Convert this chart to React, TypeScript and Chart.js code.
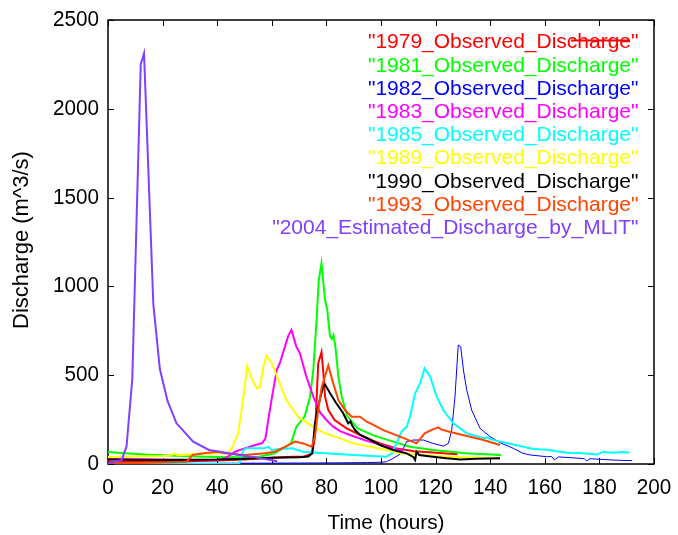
import React, { useEffect, useRef } from "react";
import { Chart, registerables } from "chart.js";
Chart.register(...registerables);

// ---- data (hours, discharge m^3/s) ----
const h1979 = [0, 10, 20, 30, 40, 50, 60, 65, 72, 74.8, 75.8, 76.4, 77, 78.2, 78.9, 79.5, 80.7, 83, 87.4, 93.5, 99.6, 105.7, 112, 119, 128];
const q1979 = [12, 12, 14, 16, 20, 26, 35, 40, 42, 60, 154, 360, 567, 630, 511, 379, 304, 248, 201, 154, 116, 88, 72, 65, 55];

const h1981 = [0, 5, 15, 25, 35, 45, 55, 61, 67, 69, 72, 74, 75.2, 76.4, 77.2, 78.2, 79.5, 80.3, 81.3, 82, 82.6, 83.3, 84.4, 85.6, 87.6, 91.5, 97.5, 103.5, 110.6, 119, 131, 144];
const q1981 = [68, 62, 52, 46, 41, 38, 40, 60, 116, 210, 266, 379, 529, 810, 1036, 1130, 923, 870, 720, 705, 726, 661, 492, 380, 270, 200, 160, 130, 97, 79, 60, 50];

const h1982 = [0, 20, 40, 60, 80, 95, 100, 102, 104.5, 107, 108.2, 109.4, 111.8, 115.5, 119, 122.8, 124.7, 125.9, 127.1, 128.3, 129.2, 130.2, 131.4, 133.2, 136.3, 140, 143.6, 148.5, 152, 154.6, 160.7, 162.5, 163.5, 165, 172.9, 174.5, 175.3, 176.5, 185, 192];
const q1982 = [2, 3, 4, 5, 6, 8, 10, 13, 32, 55, 88, 126, 135, 135, 116, 101, 116, 191, 379, 670, 661, 529, 417, 304, 200, 154, 120, 88, 60, 51, 41, 42, 23, 40, 32, 30, 17, 30, 22, 19];

const h1983 = [0, 10, 20, 30, 40, 43, 46.5, 50, 54, 56.5, 57.7, 58.7, 60.3, 61.8, 63, 64.8, 66, 67.2, 69, 70.3, 72.5, 75.2, 77.7, 80, 82.5, 85, 88.6, 94.8, 100.8, 104.5, 108];
const q1983 = [30, 28, 25, 22, 22, 32, 69, 88, 107, 118, 145, 248, 398, 529, 570, 661, 720, 755, 660, 623, 500, 379, 290, 248, 210, 185, 163, 130, 105, 88, 75];

const h1985 = [0, 48, 49.6, 50.8, 55, 56.9, 58.7, 60, 63, 67.3, 71.5, 79.5, 89.9, 102, 104, 105.7, 107.5, 109.4, 110.6, 112.5, 114.3, 116, 118, 120.4, 122.8, 126.5, 131.4, 137.5, 139, 140, 143.6, 148.5, 155.8, 160.7, 168, 172.9, 179, 181.4, 185, 188.8, 191];
const q1985 = [0, 0, 79, 88, 88, 88, 97, 79, 85, 88, 69, 60, 51, 41, 60, 116, 182, 210, 266, 398, 454, 539, 492, 379, 304, 229, 173, 145, 150, 140, 126, 110, 85, 80, 64, 62, 53, 68, 63, 68, 63];

const h1989 = [0, 10, 20, 23, 24, 26, 33.7, 43.5, 45.3, 47.7, 49.6, 51, 52.6, 54.5, 55.7, 56.9, 58.1, 60, 62.4, 65.5, 69.7, 74.6, 79.5, 83.2, 89.9, 102, 107, 111.8, 120, 130, 143.6];
const q1989 = [40, 42, 45, 48, 58, 50, 58, 60, 88, 173, 379, 550, 482, 426, 435, 548, 610, 567, 473, 355, 266, 215, 173, 154, 116, 79, 60, 55, 45, 38, 32];

const h1990 = [0, 10, 20, 30, 40, 50, 60, 70, 73.4, 74.8, 75.8, 77, 77.7, 78.9, 79.5, 81.3, 83.5, 86, 88, 88.8, 89.5, 90.5, 92.3, 95, 99.6, 104.5, 107, 109.4, 111.8, 112.5, 113, 114, 119, 124, 129, 135, 143.6];
const q1990 = [25, 22, 22, 24, 25, 30, 35, 38, 42, 60, 229, 323, 370, 440, 448, 400, 345, 290, 229, 240, 215, 191, 165, 145, 107, 79, 69, 60, 40, 23, 69, 51, 41, 32, 25, 30, 32];

const h1993 = [0, 10, 20, 28.8, 31, 35, 40, 43, 50, 57.5, 61, 65, 68.5, 71.5, 74.6, 75.8, 77, 78.3, 79, 80.7, 82.5, 84.4, 86.8, 89.3, 92.3, 94.8, 97.2, 100.8, 107, 113, 116, 119, 121, 122, 125, 131.4, 137.5, 143.6];
const q1993 = [3, 5, 8, 13, 51, 60, 69, 60, 51, 60, 69, 97, 126, 116, 97, 154, 304, 435, 470, 555, 454, 360, 304, 266, 266, 238, 220, 191, 154, 116, 173, 195, 206, 195, 182, 158, 135, 107];

const h2004 = [0, 5, 6.8, 8.9, 12, 13.2, 16.6, 19, 21.8, 25.1, 31.2, 37, 41, 48, 55, 62];
const q2004 = [4, 22, 100, 480, 2250, 2312, 900, 535, 355, 229, 126, 79, 69, 51, 35, 15];

const seriesLabels = [
  '"1979_Observed_Discharge"',
  '"1981_Observed_Discharge"',
  '"1982_Observed_Discharge"',
  '"1983_Observed_Discharge"',
  '"1985_Observed_Discharge"',
  '"1989_Observed_Discharge"',
  '"1990_Observed_Discharge"',
  '"1993_Observed_Discharge"',
  '"2004_Estimated_Discharge_by_MLIT"',
];
const seriesHours = [h1979, h1981, h1982, h1983, h1985, h1989, h1990, h1993, h2004];
const seriesValues = [q1979, q1981, q1982, q1983, q1985, q1989, q1990, q1993, q2004];
const seriesColors = ["#ff0000", "#00ff00", "#0000ff", "#ff00ff", "#00ffff", "#ffff00", "#000000", "#ff4500", "#8040ff"];
const seriesWidths = [2, 2, 1, 2, 2, 2, 2, 2, 2];

const xTitle = "Time (hours)";
const yTitle = "Discharge (m^3/s)";

const FONT = '"Liberation Sans", Arial, Helvetica, sans-serif';

function drawText(ctx: CanvasRenderingContext2D, s: string, x: number, y: number, align: CanvasTextAlign, size: number, color: string, rot = 0, sy = 1) {
  ctx.save();
  ctx.translate(x, y);
  if (rot) ctx.rotate(rot);
  ctx.scale(1, sy);
  ctx.font = `${size}px ${FONT}`;
  ctx.fillStyle = color;
  ctx.textAlign = align;
  ctx.textBaseline = "middle";
  ctx.fillText(s, 0, 0);
  ctx.restore();
}

const decorPlugin = {
  id: "decor",
  beforeDatasetsDraw(chart: any) {
    const ctx: CanvasRenderingContext2D = chart.ctx;
    const { left, right, top, bottom } = chart.chartArea;
    const xs = chart.scales.x;
    const ys = chart.scales.y;
    ctx.save();
    ctx.strokeStyle = "#000";
    ctx.lineWidth = 1;
    const T = 6;
    ctx.beginPath();
    for (const t of xs.ticks) {
      const px = Math.round(xs.getPixelForValue(t.value)) + 0.5;
      ctx.moveTo(px, bottom);
      ctx.lineTo(px, bottom - T);
      ctx.moveTo(px, top);
      ctx.lineTo(px, top + T);
    }
    for (const t of ys.ticks) {
      const py = Math.round(ys.getPixelForValue(t.value)) + 0.5;
      ctx.moveTo(left, py);
      ctx.lineTo(left + T, py);
      ctx.moveTo(right, py);
      ctx.lineTo(right - T, py);
    }
    ctx.stroke();
    ctx.lineWidth = 1.5;
    ctx.strokeRect(left, top, right - left, bottom - top);
    ctx.restore();
  },
  afterDatasetsDraw(chart: any) {
    const ctx: CanvasRenderingContext2D = chart.ctx;
    const { left, bottom } = chart.chartArea;
    const xs = chart.scales.x;
    const ys = chart.scales.y;

    // tick labels
    for (const t of xs.ticks) {
      drawText(ctx, String(t.value), xs.getPixelForValue(t.value), bottom + 24, "center", 20.7, "#000", 0, 1.06);
    }
    for (const t of ys.ticks) {
      drawText(ctx, String(t.value), left - 9, ys.getPixelForValue(t.value), "right", 20.7, "#000", 0, 1.06);
    }
    // axis titles
    drawText(ctx, xTitle, 386, 523, "center", 20.8, "#000");
    drawText(ctx, yTitle, 22, 240, "center", 22, "#000", -Math.PI / 2);

    // key
    const kx = 638.5;
    const ky0 = 42.7;
    const kdy = 23.2;
    seriesLabels.forEach((lab, i) => {
      drawText(ctx, lab, kx, ky0 + i * kdy, "right", 21, seriesColors[i]);
    });
    ctx.save();
    ctx.strokeStyle = seriesColors[0];
    ctx.lineWidth = 2;
    ctx.beginPath();
    ctx.moveTo(571, 40.5);
    ctx.lineTo(630, 40.5);
    ctx.stroke();
    ctx.restore();
  },
};

export default function App() {
  const ref = useRef<HTMLCanvasElement>(null);
  useEffect(() => {
    const canvas = ref.current!;
    const datasets = seriesLabels.map((label, i) => ({
      label,
      data: seriesHours[i].map((h, j) => ({ x: h, y: seriesValues[i][j] })),
      borderColor: seriesColors[i],
      backgroundColor: seriesColors[i],
      borderWidth: seriesWidths[i],
      pointRadius: 0,
      tension: 0,
      fill: false,
      order: seriesLabels.length - i,
    }));
    const chart = new Chart(canvas, {
      type: "line",
      data: { datasets },
      options: {
        responsive: false,
        animation: false,
        layout: { padding: { top: 20, right: 24, left: 0, bottom: 0 } },
        plugins: { legend: { display: false }, tooltip: { enabled: false } },
        scales: {
          x: {
            type: "linear",
            min: 0,
            max: 200,
            ticks: { stepSize: 20, display: false },
            grid: { display: false },
            border: { display: false },
            afterFit: (s: any) => { s.height = 71; },
          },
          y: {
            type: "linear",
            min: 0,
            max: 2500,
            ticks: { stepSize: 500, display: false },
            grid: { display: false },
            border: { display: false },
            afterFit: (s: any) => { s.width = 108; },
          },
        },
      },
      plugins: [decorPlugin],
    } as any);
    return () => chart.destroy();
  }, []);
  return (
    <canvas
      ref={ref}
      width={678}
      height={535}
      style={{ position: "absolute", left: 0, top: 0, width: 678, height: 535, background: "#fff" }}
    />
  );
}
